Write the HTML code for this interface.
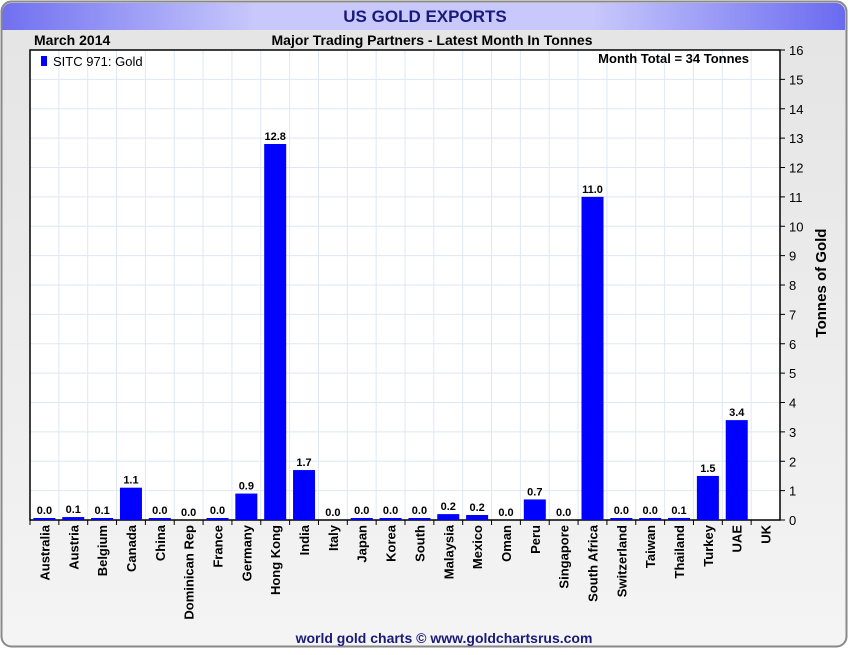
<!DOCTYPE html>
<html><head><meta charset="utf-8"><style>
body{margin:0;width:850px;height:650px;overflow:hidden;background:#fff;font-family:"Liberation Sans",sans-serif}
</style></head><body>
<svg id="c" width="850" height="650" xmlns="http://www.w3.org/2000/svg">
<defs>
<linearGradient id="hdr" x1="0" x2="1" y1="0" y2="0"><stop offset="0" stop-color="#7070f0"/><stop offset="0.3" stop-color="#c8c8fc"/><stop offset="0.7" stop-color="#c8c8fc"/><stop offset="1" stop-color="#6a6af0"/></linearGradient>
<linearGradient id="bg" x1="0" x2="0" y1="0" y2="1"><stop offset="0" stop-color="#e4e4e4"/><stop offset="1" stop-color="#f4f4f4"/></linearGradient>
</defs>
<rect x="1.5" y="1.5" width="845" height="645" rx="10" fill="url(#bg)" stroke="#888" stroke-width="2"/>
<path d="M2.5,30 V12 a9,9 0 0 1 9,-9 H836 a9,9 0 0 1 9,9 V30 Z" fill="url(#hdr)"/>
<text x="425" y="22" text-anchor="middle" font-size="17" font-weight="bold" fill="#1a1a7a">US GOLD EXPORTS</text>
<text x="34" y="45" font-size="14" font-weight="bold" fill="#000">March 2014</text>
<text x="432" y="45" text-anchor="middle" font-size="14" font-weight="bold" fill="#000">Major Trading Partners - Latest Month In Tonnes</text>
<text x="444" y="643" text-anchor="middle" font-size="14" font-weight="bold" fill="#1a1a7a">world gold charts © www.goldchartsrus.com</text>
<g id="plot"></g>
</svg>
<script>
const categories=["Australia","Austria","Belgium","Canada","China","Dominican Rep","France","Germany","Hong Kong","India","Italy","Japan","Korea","South","Malaysia","Mexico","Oman","Peru","Singapore","South Africa","Switzerland","Taiwan","Thailand","Turkey","UAE","UK"];
const values=[0.04,0.1,0.06,1.1,0.03,0,0.03,0.9,12.8,1.7,0,0.03,0.03,0.03,0.2,0.17,0,0.7,0,11.0,0.03,0.03,0.07,1.5,3.4,null];
const yTicks=[0,1,2,3,4,5,6,7,8,9,10,11,12,13,14,15,16];
const NS="http://www.w3.org/2000/svg";
const L=30,R=780,T=50,B=520,yMax=16;
const n=categories.length, bw=(R-L)/n;
const x=i=>L+bw*i, y=v=>B-(B-T)*v/yMax;
const g=document.getElementById('plot');
function mk(t,a,p){const e=document.createElementNS(NS,t);for(const k in a)e.setAttribute(k,a[k]);(p||g).appendChild(e);return e;}
mk('rect',{x:L,y:T,width:R-L,height:B-T,fill:'#fff'});
for(const t of yTicks){
 const gl=mk('line',{x1:L,x2:R,y1:y(t),y2:y(t),stroke:'#dde8f4','stroke-width':1});
 
 
 const tk=mk('line',{x1:R,x2:R+5,y1:y(t),y2:y(t),stroke:'#000'});
 
 
 const tl=mk('text',{x:R+9,y:y(t)+5,'font-size':13,fill:'#000'});
 tl.textContent=t;
 
 
}
for(let i=1;i<n;i++){
 const gl=mk('line',{x1:x(i),x2:x(i),y1:T,y2:B,stroke:'#dde8f4'});
 
 
}
mk('rect',{x:L,y:T,width:R-L,height:B-T,fill:'none',stroke:'#000','stroke-width':1.5});
categories.forEach((c,i)=>{
 const cx=x(i)+bw/2, v=values[i];
 if(v!==null){
  const h=Math.max(B-y(v), v>0?2:0);
  const b=mk('rect',{x:cx-11,y:B-h,width:22,height:h,fill:'#0000ff'});
  
  
  const vl=mk('text',{x:cx,y:B-h-4,'text-anchor':'middle','font-size':11,'font-weight':'bold',fill:'#000'});
  vl.textContent=v.toFixed(1);
  
  
 }
 const tk=mk('line',{x1:x(i),x2:x(i),y1:B,y2:B+5,stroke:'#000'});
 
 
 const cl=mk('text',{transform:`translate(${cx+5},${B+5}) rotate(-90)`,'text-anchor':'end','font-size':13,'font-weight':'bold',fill:'#000'});
 cl.textContent=c;
 
 
});
const yt=mk('text',{transform:`translate(826,${(T+B)/2-2}) rotate(-90)`,'text-anchor':'middle','font-size':15,'font-weight':'bold',fill:'#000'});
yt.textContent='Tonnes of Gold';


const lm=mk('rect',{x:41,y:56,width:6,height:10,fill:'#0000ff'});


const lt=mk('text',{x:53,y:66,'font-size':13,fill:'#000'});
lt.textContent='SITC 971: Gold';


const mt=mk('text',{x:749,y:63,'text-anchor':'end','font-size':13,'font-weight':'bold',fill:'#000'});
mt.textContent='Month Total = 34 Tonnes';


</script>
</body></html>
